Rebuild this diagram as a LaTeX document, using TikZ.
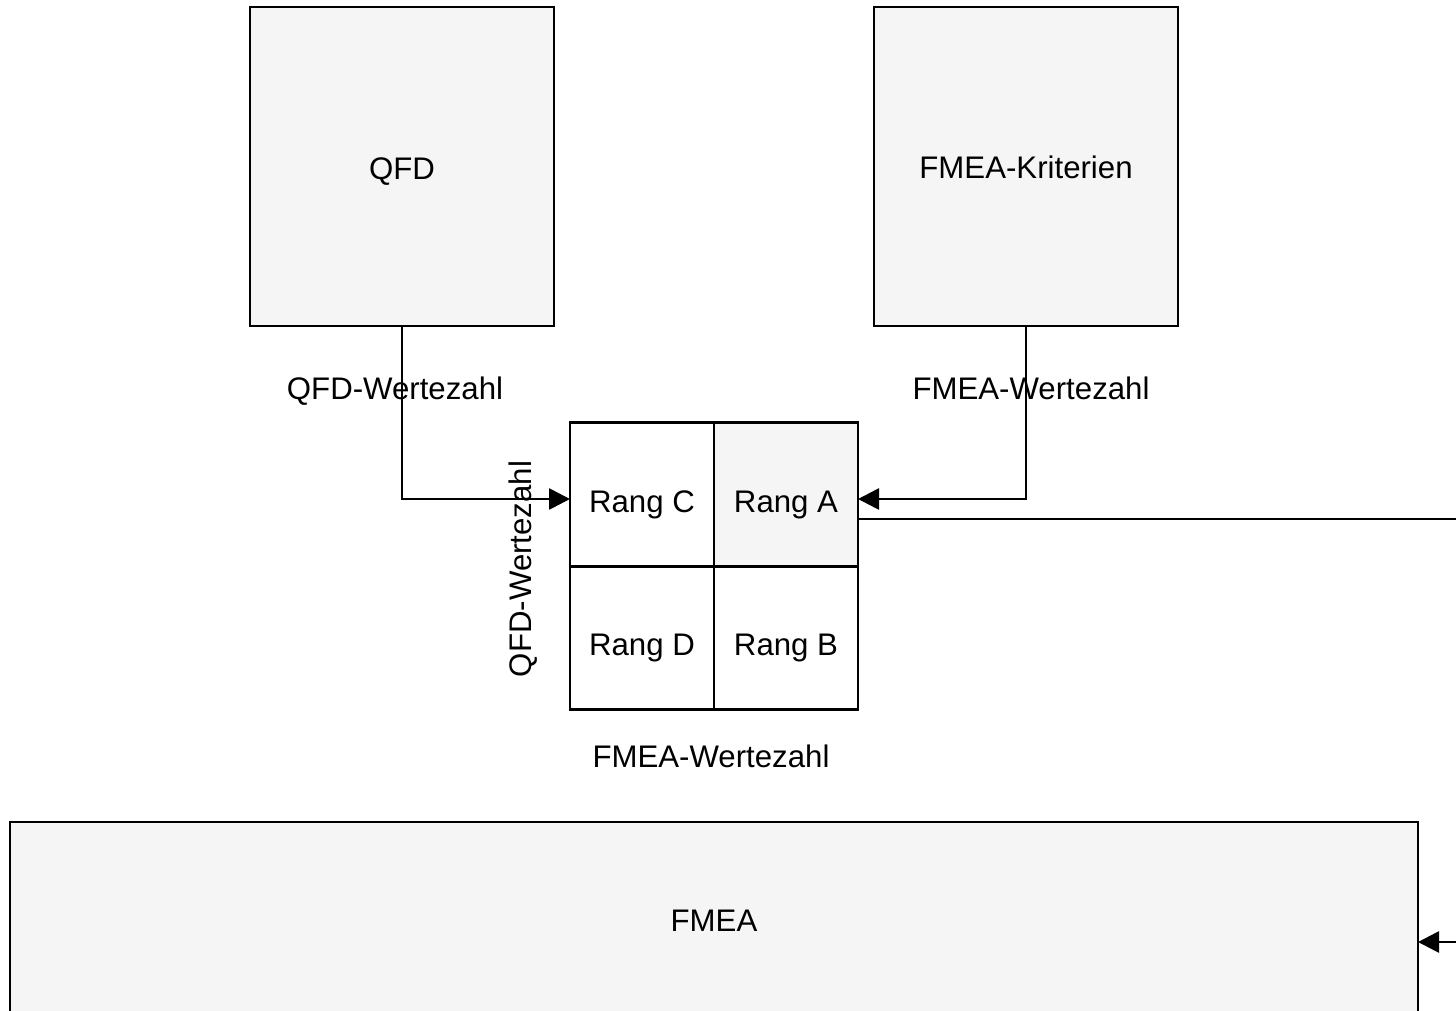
\documentclass[tikz,border=0pt]{standalone}
\usepackage{fontspec}
\setmainfont{Liberation Sans}
\usetikzlibrary{arrows.meta}
\begin{document}
\begin{tikzpicture}[x=1pt,y=-1pt,
  box/.style={draw=black,line width=2.7pt,fill=boxgray,outer sep=0pt,inner sep=0pt,
    font=\fontsize{31.2}{36}\selectfont,text=black,text depth=0pt},
  cell/.style={box,fill=white,minimum width=144pt,minimum height=143.5pt,text height=35.5pt},
  lbl/.style={font=\fontsize{31.2}{36}\selectfont,text=black,inner sep=0pt,text height=22.3pt,text depth=0pt},
  conn/.style={draw=black,line width=2.7pt},
  arr/.style={conn,-{Triangle[length=21pt,width=21pt]}}]
\definecolor{boxgray}{HTML}{F5F5F5}
\useasboundingbox (0,0) rectangle (1456,1010);
\clip (0,0) rectangle (1456,1010);
\fill[white] (0,0) rectangle (1456,1010);
% big boxes
\node[box,minimum width=304pt,minimum height=319pt,text height=25pt] (qfd) at (402,166.5) {QFD};
\node[box,minimum width=304pt,minimum height=319pt,text height=23.5pt] (krit) at (1026,166.5) {FMEA-Kriterien};
\node[box,minimum width=1408pt,minimum height=196pt,text height=22.3pt] (fmea) at (714,920) {FMEA};
% grid
\node[cell] (cellC) at (642,494.5) {Rang C};
\node[cell,fill=boxgray] (cellA) at (786,494.5) {Rang A};
\node[cell] (cellD) at (642,638) {Rang D};
\node[cell] (cellB) at (786,638) {Rang B};
% labels
\node[lbl] (l1) at (395,388) {QFD-Wertezahl};
\node[lbl] (l2) at (1031,388) {FMEA-Wertezahl};
\node[lbl,rotate=90] (l3) at (520,569) {QFD-Wertezahl};
\node[lbl] (l4) at (711,756.5) {FMEA-Wertezahl};
% connectors
\draw[arr] (qfd.south) |- ([yshift=-4.5pt]cellC.west);
\draw[arr] (krit.south) |- ([yshift=-4.5pt]cellA.east);
\coordinate (far) at (1500,519);
\draw[arr] ([yshift=-24.5pt]cellA.east) -- (far) |- ([yshift=-22pt]fmea.east);
\end{tikzpicture}
\end{document}
